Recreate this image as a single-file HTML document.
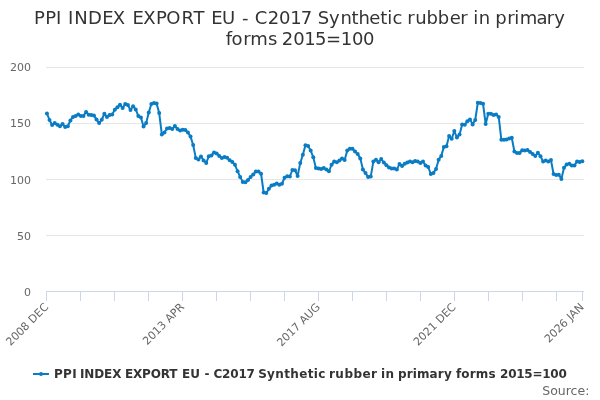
<!DOCTYPE html>
<html><head><meta charset="utf-8"><title>PPI INDEX EXPORT EU - C2017 Synthetic rubber in primary forms 2015=100</title>
<style>
html,body{margin:0;padding:0;background:#fff;}
body{width:600px;height:400px;overflow:hidden;}
svg{display:block;font-family:"DejaVu Sans","Liberation Sans",sans-serif;}
</style></head><body>
<svg width="600" height="400" viewBox="0 0 600 400">
<rect x="0" y="0" width="600" height="400" fill="#ffffff"/>
<g stroke="#e6e6e6" stroke-width="1" fill="none"><path d="M 46 67.5 L 584 67.5"/><path d="M 46 123.5 L 584 123.5"/><path d="M 46 179.5 L 584 179.5"/><path d="M 46 235.5 L 584 235.5"/></g>
<g stroke="#ccd6eb" stroke-width="1" fill="none"><path d="M 46.5 291 L 46.5 301"/><path d="M 80.5 291 L 80.5 301"/><path d="M 114.5 291 L 114.5 301"/><path d="M 148.5 291 L 148.5 301"/><path d="M 182.5 291 L 182.5 301"/><path d="M 216.5 291 L 216.5 301"/><path d="M 250.5 291 L 250.5 301"/><path d="M 284.5 291 L 284.5 301"/><path d="M 318.5 291 L 318.5 301"/><path d="M 352.5 291 L 352.5 301"/><path d="M 386.5 291 L 386.5 301"/><path d="M 420.5 291 L 420.5 301"/><path d="M 454.5 291 L 454.5 301"/><path d="M 488.5 291 L 488.5 301"/><path d="M 522.5 291 L 522.5 301"/><path d="M 556.5 291 L 556.5 301"/><path d="M 582.5 291 L 582.5 301"/><path d="M 46 291.5 L 584 291.5"/></g>
<g><path d="M 46.91 113.38 L 49.52 120.00 L 52.13 125.00 L 54.74 123.12 L 57.35 124.75 L 59.96 126.25 L 62.58 124.00 L 65.19 127.12 L 67.80 126.25 L 70.41 120.38 L 73.02 116.88 L 75.63 115.88 L 78.25 114.62 L 80.86 115.88 L 83.47 115.88 L 86.08 111.88 L 88.69 114.75 L 91.30 115.00 L 93.92 115.62 L 96.53 119.38 L 99.14 123.12 L 101.75 119.75 L 104.36 113.75 L 106.97 116.88 L 109.59 115.00 L 112.20 114.38 L 114.81 109.75 L 117.42 107.25 L 120.03 104.75 L 122.64 107.88 L 125.26 104.12 L 127.87 105.00 L 130.48 110.00 L 133.09 106.25 L 135.70 109.38 L 138.31 115.88 L 140.93 117.50 L 143.54 126.50 L 146.15 123.12 L 148.76 112.50 L 151.37 104.00 L 153.98 103.12 L 156.60 103.50 L 159.21 113.12 L 161.82 134.38 L 164.43 132.50 L 167.04 128.50 L 169.65 128.12 L 172.27 129.00 L 174.88 126.00 L 177.49 129.12 L 180.10 130.38 L 182.71 129.75 L 185.32 130.00 L 187.93 132.50 L 190.55 136.62 L 193.16 145.00 L 195.77 157.88 L 198.38 159.38 L 200.99 156.50 L 203.60 160.38 L 206.22 162.88 L 208.83 156.25 L 211.44 155.62 L 214.05 152.50 L 216.66 153.50 L 219.27 156.00 L 221.89 158.12 L 224.50 156.88 L 227.11 157.75 L 229.72 160.25 L 232.33 161.88 L 234.94 164.75 L 237.56 171.25 L 240.17 176.88 L 242.78 181.88 L 245.39 182.25 L 248.00 180.00 L 250.61 176.88 L 253.23 174.38 L 255.84 171.62 L 258.45 171.50 L 261.06 173.75 L 263.67 192.50 L 266.28 193.12 L 268.90 188.75 L 271.51 185.62 L 274.12 184.75 L 276.73 183.50 L 279.34 184.75 L 281.95 183.75 L 284.57 177.75 L 287.18 176.25 L 289.79 176.50 L 292.40 170.00 L 295.01 170.25 L 297.62 176.00 L 300.24 163.12 L 302.85 154.75 L 305.46 145.25 L 308.07 146.00 L 310.68 150.62 L 313.29 157.25 L 315.91 168.12 L 318.52 168.50 L 321.13 169.00 L 323.74 168.12 L 326.35 169.38 L 328.96 171.25 L 331.58 164.75 L 334.19 161.62 L 336.80 162.25 L 339.41 160.62 L 342.02 158.38 L 344.63 160.00 L 347.25 150.62 L 349.86 148.75 L 352.47 148.75 L 355.08 151.50 L 357.69 154.12 L 360.30 158.38 L 362.92 169.38 L 365.53 173.12 L 368.14 177.12 L 370.75 176.62 L 373.36 161.62 L 375.97 159.75 L 378.59 162.25 L 381.20 159.12 L 383.81 162.50 L 386.42 165.25 L 389.03 167.50 L 391.64 168.50 L 394.26 168.50 L 396.87 169.38 L 399.48 164.12 L 402.09 165.88 L 404.70 163.75 L 407.31 162.50 L 409.93 161.62 L 412.54 162.25 L 415.15 161.00 L 417.76 161.50 L 420.37 163.12 L 422.98 161.50 L 425.60 165.62 L 428.21 167.12 L 430.82 174.00 L 433.43 172.88 L 436.04 169.00 L 438.65 159.75 L 441.27 155.88 L 443.88 146.88 L 446.49 146.25 L 449.10 136.00 L 451.71 138.75 L 454.32 131.00 L 456.93 137.50 L 459.55 134.38 L 462.16 124.38 L 464.77 124.75 L 467.38 121.25 L 469.99 119.38 L 472.60 124.38 L 475.22 120.00 L 477.83 102.75 L 480.44 103.12 L 483.05 103.75 L 485.66 124.00 L 488.27 113.75 L 490.89 113.75 L 493.50 115.00 L 496.11 114.38 L 498.72 116.88 L 501.33 139.70 L 503.94 139.80 L 506.56 139.60 L 509.17 138.60 L 511.78 137.80 L 514.39 151.50 L 517.00 152.88 L 519.61 153.12 L 522.23 150.25 L 524.84 150.38 L 527.45 150.00 L 530.06 151.88 L 532.67 154.12 L 535.28 155.88 L 537.90 152.75 L 540.51 156.25 L 543.12 161.62 L 545.73 160.38 L 548.34 161.50 L 550.95 160.00 L 553.57 174.00 L 556.18 175.00 L 558.79 174.75 L 561.40 179.00 L 564.01 167.75 L 566.62 164.38 L 569.24 163.75 L 571.85 165.62 L 574.46 165.38 L 577.07 161.50 L 579.68 161.88 L 582.29 161.25" fill="none" stroke="#0a7cc4" stroke-width="2" stroke-linejoin="round" stroke-linecap="round"/>
<g fill="#0a7cc4"><circle cx="46.91" cy="113.38" r="2"/><circle cx="49.52" cy="120.00" r="2"/><circle cx="52.13" cy="125.00" r="2"/><circle cx="54.74" cy="123.12" r="2"/><circle cx="57.35" cy="124.75" r="2"/><circle cx="59.96" cy="126.25" r="2"/><circle cx="62.58" cy="124.00" r="2"/><circle cx="65.19" cy="127.12" r="2"/><circle cx="67.80" cy="126.25" r="2"/><circle cx="70.41" cy="120.38" r="2"/><circle cx="73.02" cy="116.88" r="2"/><circle cx="75.63" cy="115.88" r="2"/><circle cx="78.25" cy="114.62" r="2"/><circle cx="80.86" cy="115.88" r="2"/><circle cx="83.47" cy="115.88" r="2"/><circle cx="86.08" cy="111.88" r="2"/><circle cx="88.69" cy="114.75" r="2"/><circle cx="91.30" cy="115.00" r="2"/><circle cx="93.92" cy="115.62" r="2"/><circle cx="96.53" cy="119.38" r="2"/><circle cx="99.14" cy="123.12" r="2"/><circle cx="101.75" cy="119.75" r="2"/><circle cx="104.36" cy="113.75" r="2"/><circle cx="106.97" cy="116.88" r="2"/><circle cx="109.59" cy="115.00" r="2"/><circle cx="112.20" cy="114.38" r="2"/><circle cx="114.81" cy="109.75" r="2"/><circle cx="117.42" cy="107.25" r="2"/><circle cx="120.03" cy="104.75" r="2"/><circle cx="122.64" cy="107.88" r="2"/><circle cx="125.26" cy="104.12" r="2"/><circle cx="127.87" cy="105.00" r="2"/><circle cx="130.48" cy="110.00" r="2"/><circle cx="133.09" cy="106.25" r="2"/><circle cx="135.70" cy="109.38" r="2"/><circle cx="138.31" cy="115.88" r="2"/><circle cx="140.93" cy="117.50" r="2"/><circle cx="143.54" cy="126.50" r="2"/><circle cx="146.15" cy="123.12" r="2"/><circle cx="148.76" cy="112.50" r="2"/><circle cx="151.37" cy="104.00" r="2"/><circle cx="153.98" cy="103.12" r="2"/><circle cx="156.60" cy="103.50" r="2"/><circle cx="159.21" cy="113.12" r="2"/><circle cx="161.82" cy="134.38" r="2"/><circle cx="164.43" cy="132.50" r="2"/><circle cx="167.04" cy="128.50" r="2"/><circle cx="169.65" cy="128.12" r="2"/><circle cx="172.27" cy="129.00" r="2"/><circle cx="174.88" cy="126.00" r="2"/><circle cx="177.49" cy="129.12" r="2"/><circle cx="180.10" cy="130.38" r="2"/><circle cx="182.71" cy="129.75" r="2"/><circle cx="185.32" cy="130.00" r="2"/><circle cx="187.93" cy="132.50" r="2"/><circle cx="190.55" cy="136.62" r="2"/><circle cx="193.16" cy="145.00" r="2"/><circle cx="195.77" cy="157.88" r="2"/><circle cx="198.38" cy="159.38" r="2"/><circle cx="200.99" cy="156.50" r="2"/><circle cx="203.60" cy="160.38" r="2"/><circle cx="206.22" cy="162.88" r="2"/><circle cx="208.83" cy="156.25" r="2"/><circle cx="211.44" cy="155.62" r="2"/><circle cx="214.05" cy="152.50" r="2"/><circle cx="216.66" cy="153.50" r="2"/><circle cx="219.27" cy="156.00" r="2"/><circle cx="221.89" cy="158.12" r="2"/><circle cx="224.50" cy="156.88" r="2"/><circle cx="227.11" cy="157.75" r="2"/><circle cx="229.72" cy="160.25" r="2"/><circle cx="232.33" cy="161.88" r="2"/><circle cx="234.94" cy="164.75" r="2"/><circle cx="237.56" cy="171.25" r="2"/><circle cx="240.17" cy="176.88" r="2"/><circle cx="242.78" cy="181.88" r="2"/><circle cx="245.39" cy="182.25" r="2"/><circle cx="248.00" cy="180.00" r="2"/><circle cx="250.61" cy="176.88" r="2"/><circle cx="253.23" cy="174.38" r="2"/><circle cx="255.84" cy="171.62" r="2"/><circle cx="258.45" cy="171.50" r="2"/><circle cx="261.06" cy="173.75" r="2"/><circle cx="263.67" cy="192.50" r="2"/><circle cx="266.28" cy="193.12" r="2"/><circle cx="268.90" cy="188.75" r="2"/><circle cx="271.51" cy="185.62" r="2"/><circle cx="274.12" cy="184.75" r="2"/><circle cx="276.73" cy="183.50" r="2"/><circle cx="279.34" cy="184.75" r="2"/><circle cx="281.95" cy="183.75" r="2"/><circle cx="284.57" cy="177.75" r="2"/><circle cx="287.18" cy="176.25" r="2"/><circle cx="289.79" cy="176.50" r="2"/><circle cx="292.40" cy="170.00" r="2"/><circle cx="295.01" cy="170.25" r="2"/><circle cx="297.62" cy="176.00" r="2"/><circle cx="300.24" cy="163.12" r="2"/><circle cx="302.85" cy="154.75" r="2"/><circle cx="305.46" cy="145.25" r="2"/><circle cx="308.07" cy="146.00" r="2"/><circle cx="310.68" cy="150.62" r="2"/><circle cx="313.29" cy="157.25" r="2"/><circle cx="315.91" cy="168.12" r="2"/><circle cx="318.52" cy="168.50" r="2"/><circle cx="321.13" cy="169.00" r="2"/><circle cx="323.74" cy="168.12" r="2"/><circle cx="326.35" cy="169.38" r="2"/><circle cx="328.96" cy="171.25" r="2"/><circle cx="331.58" cy="164.75" r="2"/><circle cx="334.19" cy="161.62" r="2"/><circle cx="336.80" cy="162.25" r="2"/><circle cx="339.41" cy="160.62" r="2"/><circle cx="342.02" cy="158.38" r="2"/><circle cx="344.63" cy="160.00" r="2"/><circle cx="347.25" cy="150.62" r="2"/><circle cx="349.86" cy="148.75" r="2"/><circle cx="352.47" cy="148.75" r="2"/><circle cx="355.08" cy="151.50" r="2"/><circle cx="357.69" cy="154.12" r="2"/><circle cx="360.30" cy="158.38" r="2"/><circle cx="362.92" cy="169.38" r="2"/><circle cx="365.53" cy="173.12" r="2"/><circle cx="368.14" cy="177.12" r="2"/><circle cx="370.75" cy="176.62" r="2"/><circle cx="373.36" cy="161.62" r="2"/><circle cx="375.97" cy="159.75" r="2"/><circle cx="378.59" cy="162.25" r="2"/><circle cx="381.20" cy="159.12" r="2"/><circle cx="383.81" cy="162.50" r="2"/><circle cx="386.42" cy="165.25" r="2"/><circle cx="389.03" cy="167.50" r="2"/><circle cx="391.64" cy="168.50" r="2"/><circle cx="394.26" cy="168.50" r="2"/><circle cx="396.87" cy="169.38" r="2"/><circle cx="399.48" cy="164.12" r="2"/><circle cx="402.09" cy="165.88" r="2"/><circle cx="404.70" cy="163.75" r="2"/><circle cx="407.31" cy="162.50" r="2"/><circle cx="409.93" cy="161.62" r="2"/><circle cx="412.54" cy="162.25" r="2"/><circle cx="415.15" cy="161.00" r="2"/><circle cx="417.76" cy="161.50" r="2"/><circle cx="420.37" cy="163.12" r="2"/><circle cx="422.98" cy="161.50" r="2"/><circle cx="425.60" cy="165.62" r="2"/><circle cx="428.21" cy="167.12" r="2"/><circle cx="430.82" cy="174.00" r="2"/><circle cx="433.43" cy="172.88" r="2"/><circle cx="436.04" cy="169.00" r="2"/><circle cx="438.65" cy="159.75" r="2"/><circle cx="441.27" cy="155.88" r="2"/><circle cx="443.88" cy="146.88" r="2"/><circle cx="446.49" cy="146.25" r="2"/><circle cx="449.10" cy="136.00" r="2"/><circle cx="451.71" cy="138.75" r="2"/><circle cx="454.32" cy="131.00" r="2"/><circle cx="456.93" cy="137.50" r="2"/><circle cx="459.55" cy="134.38" r="2"/><circle cx="462.16" cy="124.38" r="2"/><circle cx="464.77" cy="124.75" r="2"/><circle cx="467.38" cy="121.25" r="2"/><circle cx="469.99" cy="119.38" r="2"/><circle cx="472.60" cy="124.38" r="2"/><circle cx="475.22" cy="120.00" r="2"/><circle cx="477.83" cy="102.75" r="2"/><circle cx="480.44" cy="103.12" r="2"/><circle cx="483.05" cy="103.75" r="2"/><circle cx="485.66" cy="124.00" r="2"/><circle cx="488.27" cy="113.75" r="2"/><circle cx="490.89" cy="113.75" r="2"/><circle cx="493.50" cy="115.00" r="2"/><circle cx="496.11" cy="114.38" r="2"/><circle cx="498.72" cy="116.88" r="2"/><circle cx="501.33" cy="139.70" r="2"/><circle cx="503.94" cy="139.80" r="2"/><circle cx="506.56" cy="139.60" r="2"/><circle cx="509.17" cy="138.60" r="2"/><circle cx="511.78" cy="137.80" r="2"/><circle cx="514.39" cy="151.50" r="2"/><circle cx="517.00" cy="152.88" r="2"/><circle cx="519.61" cy="153.12" r="2"/><circle cx="522.23" cy="150.25" r="2"/><circle cx="524.84" cy="150.38" r="2"/><circle cx="527.45" cy="150.00" r="2"/><circle cx="530.06" cy="151.88" r="2"/><circle cx="532.67" cy="154.12" r="2"/><circle cx="535.28" cy="155.88" r="2"/><circle cx="537.90" cy="152.75" r="2"/><circle cx="540.51" cy="156.25" r="2"/><circle cx="543.12" cy="161.62" r="2"/><circle cx="545.73" cy="160.38" r="2"/><circle cx="548.34" cy="161.50" r="2"/><circle cx="550.95" cy="160.00" r="2"/><circle cx="553.57" cy="174.00" r="2"/><circle cx="556.18" cy="175.00" r="2"/><circle cx="558.79" cy="174.75" r="2"/><circle cx="561.40" cy="179.00" r="2"/><circle cx="564.01" cy="167.75" r="2"/><circle cx="566.62" cy="164.38" r="2"/><circle cx="569.24" cy="163.75" r="2"/><circle cx="571.85" cy="165.62" r="2"/><circle cx="574.46" cy="165.38" r="2"/><circle cx="577.07" cy="161.50" r="2"/><circle cx="579.68" cy="161.88" r="2"/><circle cx="582.29" cy="161.25" r="2"/></g></g>
<text y="24" font-size="18px" font-weight="normal" fill="#333333"><tspan x="34.03 45.23 56.03">PPI</tspan> <tspan x="68.03 74.23 88.03 102.23 112.76">INDEX</tspan> <tspan x="132.43 143.26 156.03 166.29 181.43 193.45">EXPORT</tspan> <tspan x="211.23 221.94">EU</tspan> <tspan x="241.92">-</tspan> <tspan x="254.79 267.68 279.11 290.22 300.72">C2017</tspan> <tspan x="317.81 328.96 340.57 351.52 358.57 369.21 380.32 387.30 392.51">Synthetic</tspan> <tspan x="407.37 415.27 426.57 437.87 449.81 460.17">rubber</tspan> <tspan x="473.30 478.87">in</tspan> <tspan x="495.37 507.37 514.30 519.87 536.42 546.87 554.26">primary</tspan></text>
<text y="45" font-size="18px" font-weight="normal" fill="#333333"><tspan x="225.79 231.51 243.37 250.37 268.02">forms</tspan> <tspan x="281.68 293.31 304.22 315.11 325.89 340.82 352.01 363.01">2015=100</tspan></text>
<g font-size="11px" fill="#666666" text-anchor="end"><text x="31" y="71">200</text><text x="31" y="127">150</text><text x="31" y="184">100</text><text x="31" y="240">50</text><text x="31" y="296">0</text></g>
<g font-size="11px" fill="#666666" text-anchor="end"><text x="49.11" y="307.7" transform="rotate(-45 49.11 307.7)">2008 DEC</text><text x="184.91" y="307.7" transform="rotate(-45 184.91 307.7)">2013 APR</text><text x="320.72" y="307.7" transform="rotate(-45 320.72 307.7)">2017 AUG</text><text x="456.52" y="307.7" transform="rotate(-45 456.52 307.7)">2021 DEC</text><text x="584.49" y="307.7" transform="rotate(-45 584.49 307.7)">2026 JAN</text></g>
<g><path d="M 33 374 L 49 374" stroke="#0a7cc4" stroke-width="2" fill="none"/><circle cx="41" cy="374" r="2" fill="#0a7cc4"/>
<text y="378" font-size="12px" font-weight="bold" fill="#333333" xml:space="preserve"><tspan x="53.90" letter-spacing="0.327">PPI</tspan> <tspan x="79.90" letter-spacing="-0.094">INDEX</tspan> <tspan x="125.10" letter-spacing="-0.221">EXPORT</tspan> <tspan x="181.90" letter-spacing="0.262">EU</tspan> <tspan x="204.51" letter-spacing="0.000">-</tspan> <tspan x="213.40" letter-spacing="-0.163">C2017</tspan> <tspan x="258.14" letter-spacing="0.347">Synthetic</tspan> <tspan x="328.99" letter-spacing="0.469">rubber</tspan> <tspan x="380.99" letter-spacing="0.289">in</tspan> <tspan x="397.99" letter-spacing="0.127">primary</tspan> <tspan x="455.97" letter-spacing="0.142">forms</tspan> <tspan x="500.05" letter-spacing="-0.254">2015=100</tspan></text></g>
<text x="589.4" y="395" text-anchor="end" font-size="12.5px" fill="#666666">Source:</text>
</svg>
</body></html>
